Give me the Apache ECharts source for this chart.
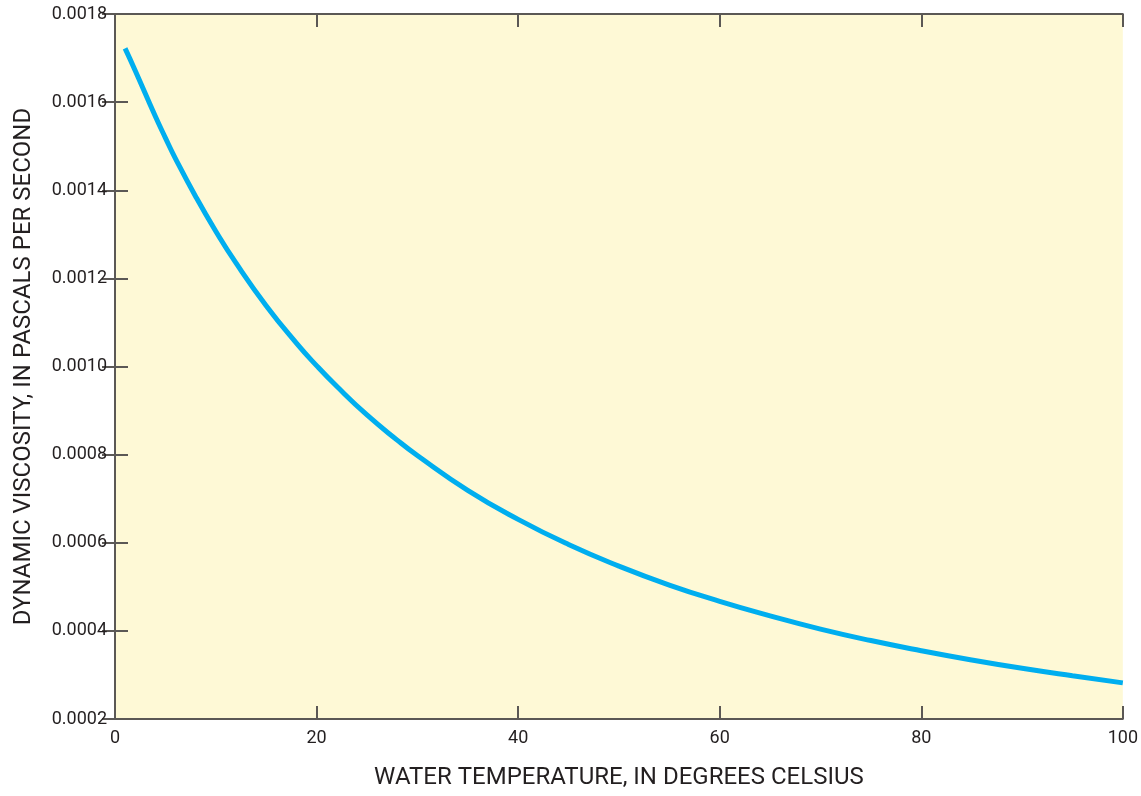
<!DOCTYPE html>
<html>
<head>
<meta charset="utf-8">
<script src="https://cdn.jsdelivr.net/npm/echarts@6/dist/echarts.min.js"></script>
<style>
html,body{margin:0;padding:0;background:#fff;}
#chart{width:1141px;height:796px;}
</style>
</head>
<body>
<div id="chart"></div>
<script>
const temperature = [1, 2, 4, 5, 6, 8, 10, 12, 15, 18, 20, 22, 25, 28, 30, 35, 40, 45, 50, 55, 60, 65, 70, 75, 80, 85, 90, 95, 100];
const viscosity = [0.001722, 0.001672, 0.001568, 0.001519, 0.001472, 0.001386, 0.001307, 0.001235, 0.001138, 0.001053, 0.001002, 0.000955, 0.000890, 0.000833, 0.000798, 0.000719, 0.000653, 0.000596, 0.000547, 0.000504, 0.000467, 0.000434, 0.000404, 0.000378, 0.000355, 0.000334, 0.000315, 0.000298, 0.000282];
const xTitle = 'WATER TEMPERATURE, IN DEGREES CELSIUS';
const yTitle = 'DYNAMIC VISCOSITY, IN PASCALS PER SECOND';

const font = "'Roboto', sans-serif";
const textColor = '#231f20';
const axisColor = '#5b5855';

const chart = echarts.init(document.getElementById('chart'), null, {renderer: 'canvas'});
const data = temperature.map((t, i) => [t, viscosity[i]]);

const baseAxisLine = {show: true, lineStyle: {color: axisColor, width: 2}};
const baseTick = {show: true, inside: true, length: 13, lineStyle: {color: axisColor, width: 2}};

chart.setOption({
  animation: false,
  grid: {left: 115, right: 17, top: 14, bottom: 77, show: true, backgroundColor: '#fef9d6', borderWidth: 0},
  xAxis: [
    {
      type: 'value', min: 0, max: 100, interval: 20, position: 'bottom',
      axisLine: baseAxisLine, axisTick: baseTick, splitLine: {show: false},
      axisLabel: {color: textColor, fontFamily: font, fontSize: 18, margin: 10},
      name: xTitle, nameLocation: 'middle', nameGap: 47,
      nameTextStyle: {color: textColor, fontFamily: font, fontSize: 24}
    },
    {
      type: 'value', min: 0, max: 100, interval: 20, position: 'top',
      axisLine: baseAxisLine, axisTick: baseTick, splitLine: {show: false},
      axisLabel: {show: false}
    }
  ],
  yAxis: [
    {
      type: 'value', min: 0.0002, max: 0.0018, interval: 0.0002, position: 'left',
      axisLine: baseAxisLine, axisTick: baseTick, splitLine: {show: false},
      axisLabel: {color: textColor, fontFamily: font, fontSize: 18, margin: 8,
        formatter: v => v.toFixed(4)},
      name: yTitle, nameLocation: 'middle', nameGap: 79,
      nameTextStyle: {color: textColor, fontFamily: font, fontSize: 24}
    },
    {
      type: 'value', min: 0.0002, max: 0.0018, interval: 0.0002, position: 'right',
      axisLine: baseAxisLine, axisTick: baseTick, splitLine: {show: false},
      axisLabel: {show: false}
    }
  ],
  series: [{
    type: 'line', xAxisIndex: 0, yAxisIndex: 0, data: data, smooth: true,
    showSymbol: false, lineStyle: {color: '#00aeef', width: 5}
  }]
});
</script>
</body>
</html>
